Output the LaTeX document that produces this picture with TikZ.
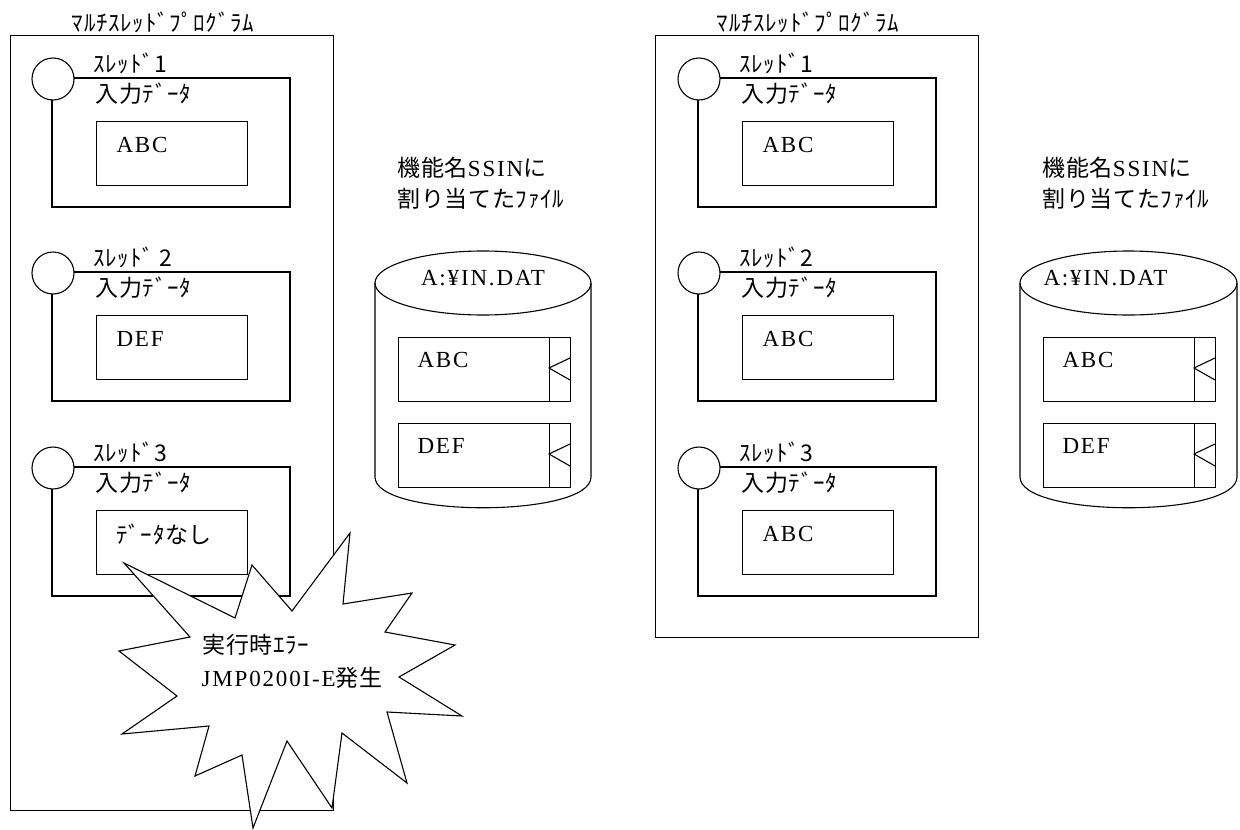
\documentclass[tikz,border=0pt]{standalone}
\usepackage{fontspec}
\setmainfont{Liberation Serif}[LetterSpace=8]
\newfontfamily\cjk{Noto Sans CJK JP}[LetterSpace=3]
\begin{document}
\begin{tikzpicture}[x=1pt,y=-1pt,line width=1.1pt,
  lbl/.style={anchor=west,inner sep=0pt,font=\fontsize{23}{26}\selectfont},
  circ/.style={circle,draw,fill=white,minimum size=42pt,inner sep=0pt},
  databox/.style={draw,anchor=north west,minimum width=151pt,minimum height=64pt,inner sep=0pt},
  recbox/.style={draw,anchor=north west,minimum width=172pt,minimum height=64pt,inner sep=0pt},
  progbox/.style={draw,anchor=north west,inner sep=0pt}]
\useasboundingbox (0,0) rectangle (1240,830);
% thread block: #1 name, #2 corner x, #3 top y, #4 right x, #5 label, #6 data text
\newcommand\thrblock[6]{%
  \draw (#2,#3) rectangle (#4,#3+129);
  \node[circ] (#1c) at (#2+1,#3+1) {};
  \node[lbl] (#1l) at (#2+41,#3-15) {#5};
  \node[lbl] (#1i) at (#2+43,#3+16) {\cjk 入力ﾃﾞｰﾀ};
  \node[databox] (#1d) at (#2+44,#3+43) {};
  \node[lbl] (#1t) at (#2+64,#3+67) {#6};
}
% record in file: #1 name, #2 left x, #3 top y, #4 text
\newcommand\recblock[4]{%
  \node[recbox] (#1) at (#2,#3) {};
  \draw ([xshift=-22pt]#1.north east) -- ([xshift=-22pt]#1.south east);
  \draw (#2+172,#3+21) -- (#2+151,#3+31) -- (#2+172,#3+43);
  \node[lbl] (#1t) at (#2+19,#3+23) {#4};
}
% cylinder: #1 name, #2 left x, #3 right x
\newcommand\cylblock[3]{%
  \coordinate (#1c) at ({(#2+#3)/2},283);
  \draw (#1c) ellipse [x radius={(#3-#2)/2}, y radius=32];
  \draw (#2,283) -- (#2,477) .. controls (#2,518) and (#3,518) .. (#3,477) -- (#3,283);
}

% ===== left program =====
\node[anchor=center,inner sep=0pt,font=\fontsize{23}{26}\selectfont] (titleL) at (163,22) {\cjk ﾏﾙﾁｽﾚｯﾄﾞﾌﾟﾛｸﾞﾗﾑ};
\node[progbox,minimum width=323pt,minimum height=775pt] (progL) at (10,35) {};
\thrblock{La}{52}{78}{290}{\cjk ｽﾚｯﾄﾞ1}{ABC}
\thrblock{Lb}{52}{272}{290}{\cjk ｽﾚｯﾄﾞ 2}{DEF}
\thrblock{Lc}{52}{467}{290}{\cjk ｽﾚｯﾄﾞ3}{\cjk ﾃﾞｰﾀなし}

% ===== left file =====
\node[lbl] (capL1) at (397,168) {{\cjk 機能名}SSIN{\cjk に}};
\node[lbl] (capL2) at (397,199) {\cjk 割り当てたﾌｧｲﾙ};
\cylblock{cylL}{375}{591}
\node[anchor=center,inner sep=0pt,font=\fontsize{23}{26}\selectfont] (fileL) at (483,278) {A:¥IN.DAT};
\recblock{recLa}{398}{337}{ABC}
\recblock{recLb}{398}{423}{DEF}

% ===== right program =====
\node[anchor=center,inner sep=0pt,font=\fontsize{23}{26}\selectfont] (titleR) at (808,22) {\cjk ﾏﾙﾁｽﾚｯﾄﾞﾌﾟﾛｸﾞﾗﾑ};
\node[progbox,minimum width=323pt,minimum height=602pt] (progR) at (655,35) {};
\thrblock{Ra}{698}{78}{936}{\cjk ｽﾚｯﾄﾞ1}{ABC}
\thrblock{Rb}{698}{272}{936}{\cjk ｽﾚｯﾄﾞ2}{ABC}
\thrblock{Rc}{698}{467}{936}{\cjk ｽﾚｯﾄﾞ3}{ABC}

% ===== right file =====
\node[lbl] (capR1) at (1042,168) {{\cjk 機能名}SSIN{\cjk に}};
\node[lbl] (capR2) at (1042,199) {\cjk 割り当てたﾌｧｲﾙ};
\cylblock{cylR}{1020}{1237}
\node[lbl] (fileR) at (1043,278) {A:¥IN.DAT};
\recblock{recRa}{1043}{337}{ABC}
\recblock{recRb}{1043}{423}{DEF}

% ===== error burst =====
\draw[fill=white] (124,563) -- (235,618) -- (252,565) -- (292,611) -- (350,533)
  -- (343,604) -- (412,593) -- (385,632) -- (455,645) -- (399,677) -- (462,716)
  -- (387,712) -- (407,783) -- (342,733) -- (332,808) -- (287,741) -- (253,828)
  -- (242,755) -- (195,776) -- (209,726) -- (122,734) -- (177,696) -- (119,651)
  -- (190,637) -- cycle;
\node[lbl] (err1) at (202,645) {\cjk 実行時ｴﾗｰ};
\node[lbl] (err2) at (201,678) {JMP0200I-E{\cjk 発生}};
\end{tikzpicture}
\end{document}
